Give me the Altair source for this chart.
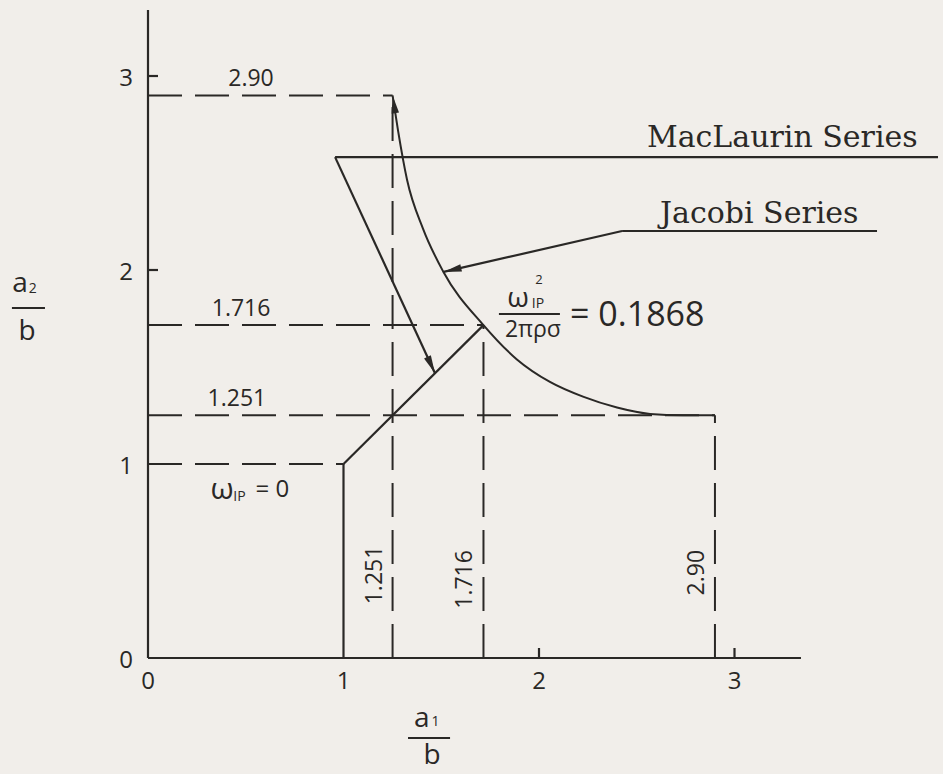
import math

import altair as alt
import pandas as pd

# ---------------------------------------------------------------- values
x_ticks = [0, 1, 2, 3]
y_ticks = [0, 1, 2, 3]
x_tick_marks = [2, 3]
y_tick_marks = [2, 3]

# critical axis ratios a/b
a_bif = 1.716          # Maclaurin -> Jacobi bifurcation
a_low = 1.251
a_high = 2.90
omega_label = "0.1868"

# Maclaurin series: a1 = a2, from the sphere to the bifurcation point
mac_x = [1.0, 1.716]
mac_y = [1.0, 1.716]
mac_level = 2.582      # level of the MacLaurin Series leader
mac_start = 0.957

# Jacobi series (both branches, a1 <-> a2)
jac_x = [1.251, 1.279, 1.325, 1.407, 1.509, 1.716, 1.887, 2.056, 2.225,
         2.399, 2.568, 2.737, 2.90]
jac_y = [2.90, 2.718, 2.465, 2.212, 1.994, 1.716, 1.539, 1.423, 1.347,
         1.291, 1.258, 1.251, 1.251]

# leader for the Jacobi label
jac_pointer_tip = (1.512, 1.99)
jac_pointer_knee = (2.425, 2.201)
jac_pointer_end = 3.729
mac_line_end = 4.041
mac_arrow_tip = (1.468, 1.468)

# ---------------------------------------------------------------- frame
W, H = 943, 774
X0_PX, Y0_PX = 148, 658          # where the origin sits on the page
PX_X, PX_Y = 195.5, 194.0        # pixels per unit
X_DOM = [-X0_PX / PX_X, (W - X0_PX) / PX_X]
Y_DOM = [-(H - Y0_PX) / PX_Y, Y0_PX / PX_Y]
X_TOP = 3.34                     # length of the drawn axes
INK = "#2a2826"
PAPER = "#f1eeea"
HAND = "Open Sans"
PRINT = "DejaVu Serif"
TICK_X = 10 / PX_X
TICK_Y = 10 / PX_Y

xs = alt.Scale(domain=X_DOM, nice=False, zero=False)
ys = alt.Scale(domain=Y_DOM, nice=False, zero=False)


def X(field="x"):
    return alt.X(f"{field}:Q", scale=xs, axis=None)


def Y(field="y"):
    return alt.Y(f"{field}:Q", scale=ys, axis=None)


def segments(rows):
    return pd.DataFrame(rows, columns=["x", "y", "x2", "y2"])


# dashed construction lines at the critical ratios
dashed = segments([
    (0, a_high, a_low, a_high),
    (a_low, 0, a_low, a_high),
    (0, a_bif, a_bif, a_bif),
    (a_bif, 0, a_bif, a_bif),
    (0, a_low, a_high, a_low),
    (a_high, 0, a_high, a_low),
    (0, 1.0, 1.0, 1.0),
])

solid_rows = [
    (0, 0, X_TOP, 0),                       # a1/b axis
    (0, 0, 0, X_TOP),                       # a2/b axis
    (1.0, 0, 1.0, 1.0),                     # omega = 0 sphere drop
    (mac_x[0], mac_y[0], mac_x[1], mac_y[1]),
    (mac_start, mac_level, mac_line_end, mac_level),
    (mac_start, mac_level, mac_arrow_tip[0], mac_arrow_tip[1]),
    (jac_pointer_knee[0], jac_pointer_knee[1], jac_pointer_tip[0], jac_pointer_tip[1]),
    (jac_pointer_knee[0], jac_pointer_knee[1], jac_pointer_end, jac_pointer_knee[1]),
]
solid_rows += [(t, 0, t, TICK_Y) for t in x_tick_marks]
solid_rows += [(0, t, TICK_X, t) for t in y_tick_marks]
solid = segments(solid_rows)

dashed_layer = alt.Chart(dashed).mark_rule(
    color=INK, strokeWidth=2, strokeDash=[34, 13]
).encode(x=X(), y=Y(), x2="x2", y2="y2")

solid_layer = alt.Chart(solid).mark_rule(
    color=INK, strokeWidth=2.2
).encode(x=X(), y=Y(), x2="x2", y2="y2")

jacobi = pd.DataFrame({"x": jac_x, "y": jac_y, "i": range(len(jac_x))})
jacobi_layer = alt.Chart(jacobi).mark_line(
    color=INK, strokeWidth=2, interpolate="monotone"
).encode(x=X(), y=Y(), order="i:Q")


# arrowheads: tip at the symbol origin, pointing along the drawn direction
def heading(tip, tail):
    dx = (tip[0] - tail[0]) * PX_X
    dy = -(tip[1] - tail[1]) * PX_Y
    return math.degrees(math.atan2(dx, -dy)) % 360


heads = pd.DataFrame([
    {"x": mac_arrow_tip[0], "y": mac_arrow_tip[1],
     "angle": heading(mac_arrow_tip, (mac_start, mac_level))},
    {"x": jac_x[0], "y": jac_y[0],
     "angle": heading((jac_x[0], jac_y[0]), (jac_x[1], jac_y[1]))},
    {"x": jac_pointer_tip[0], "y": jac_pointer_tip[1],
     "angle": heading(jac_pointer_tip, jac_pointer_knee)},
])
ARROW = "M0,0 L0.75,3.6 L-0.75,3.6 Z"
heads_layer = alt.Chart(heads).mark_point(
    shape=ARROW, filled=True, size=100, color=INK, opacity=1, strokeWidth=0
).encode(x=X(), y=Y(), angle=alt.Angle("angle:Q", scale=None))


def text_layer(rows, **mark):
    df = pd.DataFrame(rows, columns=["x", "y", "t"])
    style = dict(color=INK, font=HAND)
    style.update(mark)
    return alt.Chart(df).mark_text(**style).encode(x=X(), y=Y(), text="t:N")


layers = [dashed_layer, solid_layer, jacobi_layer, heads_layer]

# tick labels
layers.append(text_layer([(t, 0, str(t)) for t in x_ticks],
                         fontSize=24, dy=24, align="center", baseline="middle"))
layers.append(text_layer([(0, t, str(t)) for t in y_ticks],
                         fontSize=24, dx=-22, dy=3, align="center", baseline="middle"))

# values written on the horizontal construction lines
layers.append(text_layer([
    (0.527, a_high, f"{a_high:.2f}"),
    (0.476, a_bif, f"{a_bif:.3f}"),
    (0.455, a_low, f"{a_low:.3f}"),
], fontSize=23, dy=-4, align="center", baseline="bottom"))

# values written along the vertical construction lines
layers.append(text_layer([
    (a_low, 0.428, f"{a_low:.3f}"),
    (a_bif, 0.405, f"{a_bif:.3f}"),
    (a_high, 0.44, f"{a_high:.2f}"),
], fontSize=23, angle=270, align="center", baseline="bottom", dy=-6))

# series names
layers.append(text_layer([
    (2.552, 2.634, "MacLaurin Series"),
    (2.619, 2.242, "Jacobi Series"),
], font=PRINT, fontSize=30, align="left", baseline="alphabetic"))

# omega_1P = 0 at the sphere
layers.append(text_layer([(0.379, 0.866, "ω")], fontSize=30,
                         align="center", baseline="middle"))
layers.append(text_layer([(0.468, 0.83, "IP")], fontSize=14,
                         align="center", baseline="middle"))
layers.append(text_layer([(0.55, 0.866, "= 0")], fontSize=24,
                         align="left", baseline="middle"))

# omega_1P^2 / (2 pi rho sigma) = 0.1868 at the bifurcation
layers.append(text_layer([(1.893, 1.85, "ω")], fontSize=28,
                         align="center", baseline="middle"))
layers.append(text_layer([(1.995, 1.826, "IP")], fontSize=14,
                         align="center", baseline="middle"))
layers.append(text_layer([(2.0, 1.95, "2")], fontSize=13,
                         align="center", baseline="middle"))
layers.append(text_layer([(1.969, 1.69, "2πρσ")], fontSize=23,
                         align="center", baseline="middle"))
layers.append(text_layer([(2.159, 1.763, "= " + omega_label)], fontSize=34,
                         align="left", baseline="middle"))

# axis titles as stacked fractions
layers.append(text_layer([
    (1.40, -0.315, "a"), (-0.655, 1.93, "a"),
    (1.453, -0.505, "b"), (-0.619, 1.68, "b"),
], fontSize=28, align="center", baseline="middle"))
layers.append(text_layer([(1.47, -0.33, "1"), (-0.59, 1.9, "2")],
                         fontSize=14, align="center", baseline="middle"))
bars = segments([
    (1.795, 1.773, 2.107, 1.773),
    (1.330, -0.413, 1.545, -0.413),
    (-0.696, 1.804, -0.527, 1.804),
])
layers.append(alt.Chart(bars).mark_rule(color=INK, strokeWidth=2).encode(
    x=X(), y=Y(), x2="x2", y2="y2"))

chart = alt.layer(*layers).properties(
    width=W, height=H, padding=0,
    autosize=alt.AutoSizeParams(type="none"),
    background=PAPER,
).configure_view(stroke=None)

chart.save("out.html", embed_options={"renderer": "svg", "actions": False})
